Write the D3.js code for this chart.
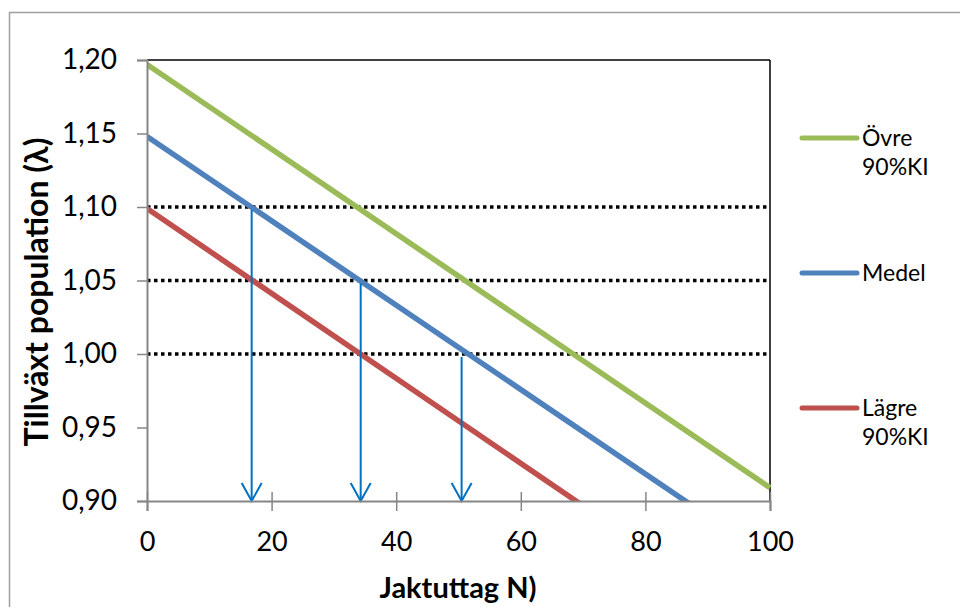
<!DOCTYPE html>
<html>
<head>
<meta charset="utf-8">
<script src="https://cdn.jsdelivr.net/npm/d3@7"></script>
<style>
  html, body { margin: 0; padding: 0; background: #fff; }
  svg { display: block; font-family: Lato, "Open Sans", sans-serif; }
</style>
</head>
<body>
<svg id="chart" width="960" height="607"></svg>
<script>
// ---- data ----
const N = [0, 100];
const ovre = [1.197, 0.909];
const medel = [1.148, 0.861];
const lagre = [1.099, 0.810];
const seriesNames = ["Övre 90%KI", "Medel", "Lägre 90%KI"];
const xTicks = [0, 20, 40, 60, 80, 100];
const yTicks = [0.90, 0.95, 1.00, 1.05, 1.10, 1.15, 1.20];
const refLevels = [1.10, 1.05, 1.00];
const arrowN = [16.8, 34.3, 50.5];
const arrowFrom = [1.10, 1.05, 1.00];
const xTitle = "Jaktuttag N)";
const yTitle = "Tillväxt population (λ)";

// ---- layout ----
const svg = d3.select("#chart");
const pLeft = 147, pRight = 770, pTop = 60, pBottom = 501;
const x = d3.scaleLinear().domain([0, 100]).range([pLeft, pRight]);
const y = d3.scaleLinear().domain([0.90, 1.20]).range([pBottom, pTop]);
const colors = ["#9BBB59", "#4F81BD", "#C0504D"];
const seriesVals = [ovre, medel, lagre];

svg.append("rect").attr("width", 960).attr("height", 607).attr("fill", "#fff");
// outer chart border
svg.append("rect").attr("x", 9.5).attr("y", 12.5).attr("width", 1000).attr("height", 700)
  .attr("fill", "none").attr("stroke", "#a0a0a0").attr("stroke-width", 1.5);

// plot border (top & right black)
svg.append("line").attr("x1", pLeft).attr("x2", pRight).attr("y1", pTop).attr("y2", pTop)
  .attr("stroke", "#000").attr("stroke-width", 1.5);
svg.append("line").attr("x1", pRight).attr("x2", pRight).attr("y1", pTop).attr("y2", pBottom)
  .attr("stroke", "#000").attr("stroke-width", 1.5);

// reference dotted lines
svg.append("g").selectAll("line").data(refLevels).join("line")
  .attr("x1", pLeft).attr("x2", pRight)
  .attr("y1", d => y(d)).attr("y2", d => y(d))
  .attr("stroke", "#000").attr("stroke-width", 3.5).attr("stroke-dasharray", "3.5,3.5");

// clip
svg.append("clipPath").attr("id", "clip").append("rect")
  .attr("x", pLeft).attr("y", pTop - 5).attr("width", pRight - pLeft + 3).attr("height", pBottom - pTop + 5);

const line = d3.line().x(d => x(d[0])).y(d => y(d[1]));
svg.append("g").attr("clip-path", "url(#clip)")
  .selectAll("path").data(seriesVals).join("path")
  .attr("d", vals => line(N.map((n, i) => [n, vals[i]])))
  .attr("fill", "none")
  .attr("stroke", (d, i) => colors[i])
  .attr("stroke-width", 5.5);

// arrows
const ag = svg.append("g").attr("stroke", "#0070C0").attr("stroke-width", 2).attr("fill", "none");
arrowN.forEach((n, i) => {
  const ax = x(n);
  ag.append("line").attr("x1", ax).attr("x2", ax).attr("y1", y(arrowFrom[i]) + 3).attr("y2", y(0.90));
  ag.append("path").attr("d", `M${ax - 10},${y(0.90) - 18}L${ax},${y(0.90)}L${ax + 10},${y(0.90) - 18}`);
});

// axes
const axisColor = "#868686";
const yAxis = d3.axisLeft(y).tickValues(yTicks).tickSize(10).tickPadding(20)
  .tickFormat(d => d3.format(".2f")(d).replace(".", ","));
const gy = svg.append("g").attr("transform", `translate(${pLeft},0)`).call(yAxis);
gy.select(".domain").attr("stroke", axisColor).attr("stroke-width", 2);
gy.selectAll(".tick line").attr("stroke", axisColor).attr("stroke-width", 1.5);
gy.selectAll(".tick text").attr("font-size", 28).attr("fill", "#000")
  .attr("font-family", "Lato, sans-serif");

const xAxis = d3.axisBottom(x).tickValues(xTicks).tickSize(10).tickPadding(21);
const gx = svg.append("g").attr("transform", `translate(0,${pBottom})`).call(xAxis);
gx.select(".domain").attr("stroke", axisColor).attr("stroke-width", 2);
gx.selectAll(".tick line").attr("stroke", axisColor).attr("stroke-width", 1.5).attr("y1", -9);
gx.selectAll(".tick text").attr("font-size", 27).attr("fill", "#000")
  .attr("font-family", "Lato, sans-serif");

// axis titles
svg.append("text").attr("x", 458).attr("y", 598).attr("text-anchor", "middle")
  .attr("font-size", 29).attr("font-weight", "bold").text(xTitle);
svg.append("text").attr("transform", "translate(48,292) rotate(-90)").attr("text-anchor", "middle")
  .attr("font-size", 32).attr("font-weight", "bold").text(yTitle);

// legend
const legendY = [138, 273, 408];
const lg = svg.append("g");
seriesNames.forEach((name, i) => {
  lg.append("line").attr("x1", 802).attr("x2", 857).attr("y1", legendY[i]).attr("y2", legendY[i])
    .attr("stroke", colors[i]).attr("stroke-width", 5).attr("stroke-linecap", "round");
  const parts = name.split(" ");
  const t = lg.append("text").attr("x", 862).attr("y", legendY[i] + 8).attr("font-size", 23);
  parts.forEach((p, j) => {
    t.append("tspan").attr("x", 862).attr("dy", j === 0 ? 0 : 29).text(p);
  });
});
</script>
</body>
</html>
